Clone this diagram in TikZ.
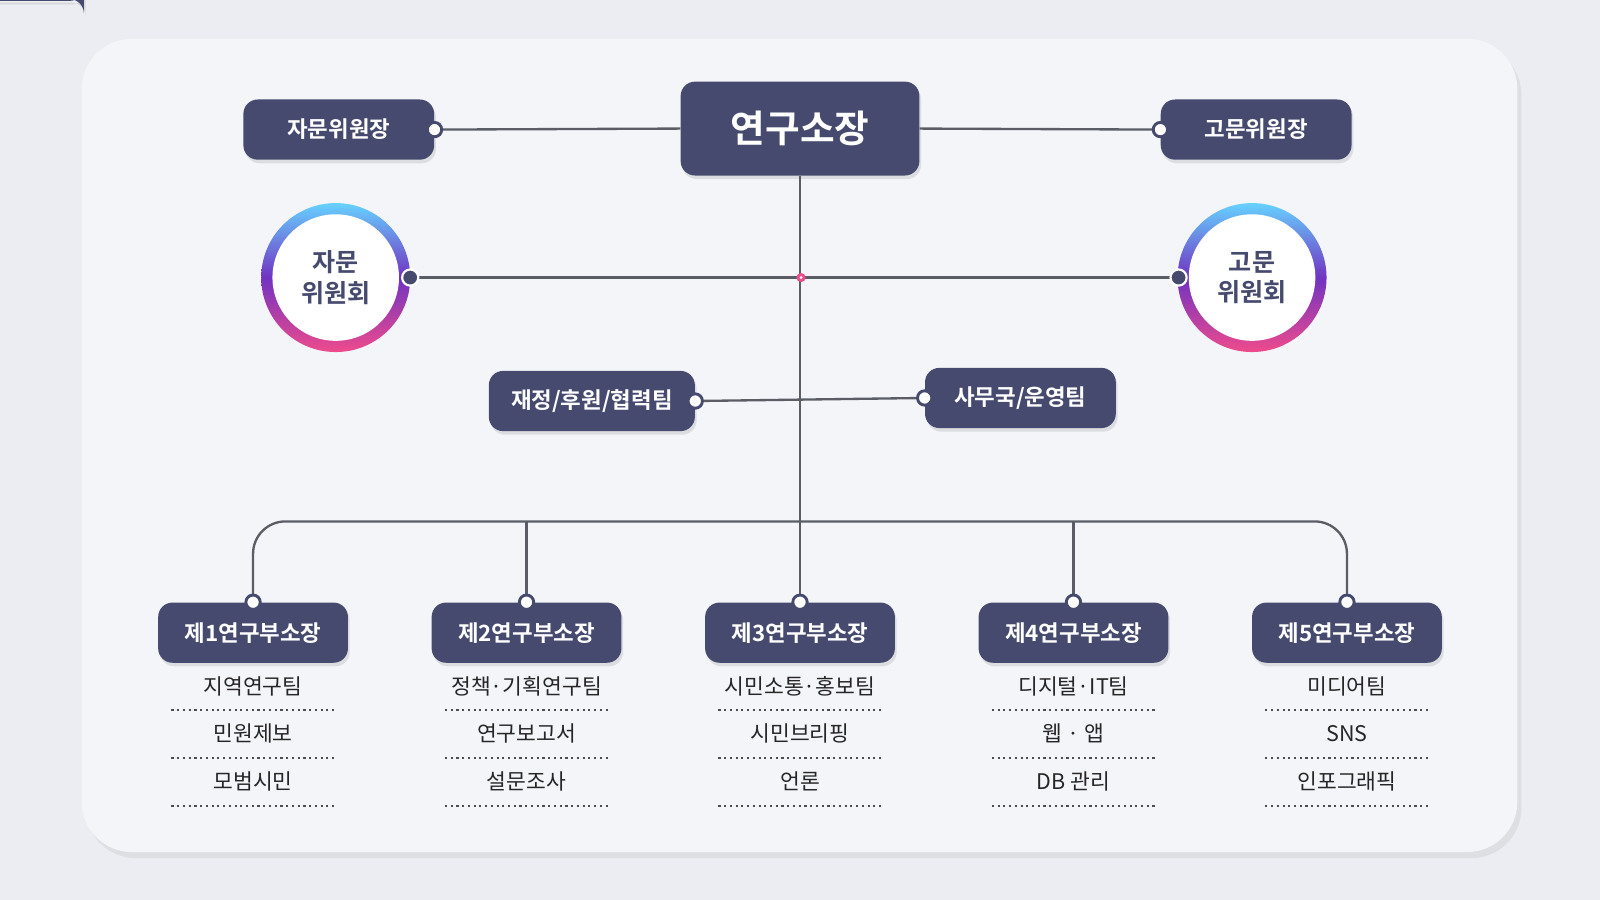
\documentclass[tikz,border=0pt]{standalone}
\usepackage{fontspec}
\setmainfont{Noto Sans CJK KR}[BoldFont={Noto Sans CJK KR Bold}]
\usetikzlibrary{shadows}
\definecolor{nav}{HTML}{454A6E}
\definecolor{ln}{HTML}{5A5D66}
\definecolor{cardc}{HTML}{F4F5F9}
\definecolor{bgc}{HTML}{ECEDF2}
\definecolor{pk}{HTML}{EE4B8C}
\begin{document}
\begin{tikzpicture}[x=0.02cm,y=-0.02cm,
 box/.style={fill=nav,rounded corners=8pt,text=white,font=\bfseries\fontsize{12.5}{14}\selectfont,inner sep=0pt,drop shadow={opacity=0.2,shadow xshift=1pt,shadow yshift=-2pt}},
 wdot/.style={circle,fill=white,draw=nav,line width=1.6pt,inner sep=0pt,minimum size=8pt},
 ddot/.style={circle,fill=nav,draw=white,line width=1.2pt,inner sep=0pt,minimum size=9pt},
 con/.style={draw=ln,line width=1.3pt},
 item/.style={font=\fontsize{12}{14}\selectfont,text=black!85},
 sep/.style={dotted,line width=1.2pt,draw=black!70}]
\useasboundingbox (0,0) rectangle (1568,882);
\fill[bgc] (0,0) rectangle (1568,882);
\fill[black,opacity=0.06] (84,44) [rounded corners=28pt] rectangle (1491,841);
\fill[cardc,rounded corners=28pt] (80,38) rectangle (1487,835);
% top
\node[box,minimum width=234\pgflinewidth,text width=0pt] at (0,0) {};
\node[box,minimum width=4.68cm,minimum height=1.84cm,font=\bfseries\fontsize{21}{24}\selectfont] (top) at (784,126) {연구소장};
\node[box,minimum width=3.74cm,minimum height=1.18cm] (jw) at (332,127) {자문위원장};
\node[box,minimum width=3.74cm,minimum height=1.18cm] (gw) at (1231,127) {고문위원장};
\draw[con] (jw.east) -- (top.west);
\draw[con] (top.east) -- (gw.west);
\node[wdot] at (jw.east) {};
\node[wdot] at (gw.west) {};
% circles
\foreach \n/\cx/\t in {jc/329/자문, gc/1227/고문}{
 \shade[top color=cyan!70!blue!60, bottom color=pk, middle color=violet!60!blue!80] (\cx,272) circle[radius=73];
 \fill[white] (\cx,272) circle[radius=62];
 \node[font=\bfseries\fontsize{14}{17}\selectfont,text=nav,align=center] (\n) at (\cx,272) {\t\\위원회};
}
\coordinate (jcE) at (402,272);
\coordinate (gcW) at (1155,272);
\coordinate (mid) at (785,272);
\draw[con] (jcE) -- (gcW);
\node[ddot] at (jcE) {};
\node[ddot] at (gcW) {};
% teams
\node[box,minimum width=4.04cm,minimum height=1.18cm] (ft) at (580,393) {재정/후원/협력팀};
\node[box,minimum width=3.74cm,minimum height=1.18cm] (st) at (1000,390) {사무국/운영팀};
\draw[con] (ft.east) -- (st.west);
\node[wdot] at (ft.east) {};
\node[wdot] at (st.west) {};
% bottom
\coordinate (bus) at (785,511);
\foreach \i/\x in {1/248,2/516,3/784,4/1052,5/1320}{
 \node[box,minimum width=3.72cm,minimum height=1.18cm] (b\i) at (\x,620) {제\i 연구부소장};
}
\draw[con] (top.south) -- (b3.north);
\draw[con,rounded corners=18pt] (b1.north) -- (248,511) -- (1320,511) -- (b5.north);
\draw[con] (b2.north) -- (516,511);
\draw[con] (b4.north) -- (1052,511);
\foreach \i in {1,...,5}{\node[wdot] at (b\i.north) {};}
\fill[pk] (mid) circle[radius=4.5];
\fill[white] (mid) circle[radius=1.5];
% items
\foreach \x/\a/\b/\c in {248/지역연구팀/민원제보/모범시민, 516/정책·기획연구팀/연구보고서/설문조사, 784/시민소통·홍보팀/시민브리핑/언론, 1052/디지털·IT팀/웹 · 앱/DB 관리, 1320/미디어팀/SNS/인포그래픽}{
 \node[item] at (\x,673) {\a};
 \node[item] at (\x,719) {\b};
 \node[item] at (\x,766) {\c};
 \foreach \y in {696,743,790}{\draw[sep] (\x-80,\y) -- (\x+80,\y);}
}
\end{tikzpicture}
\end{document}
